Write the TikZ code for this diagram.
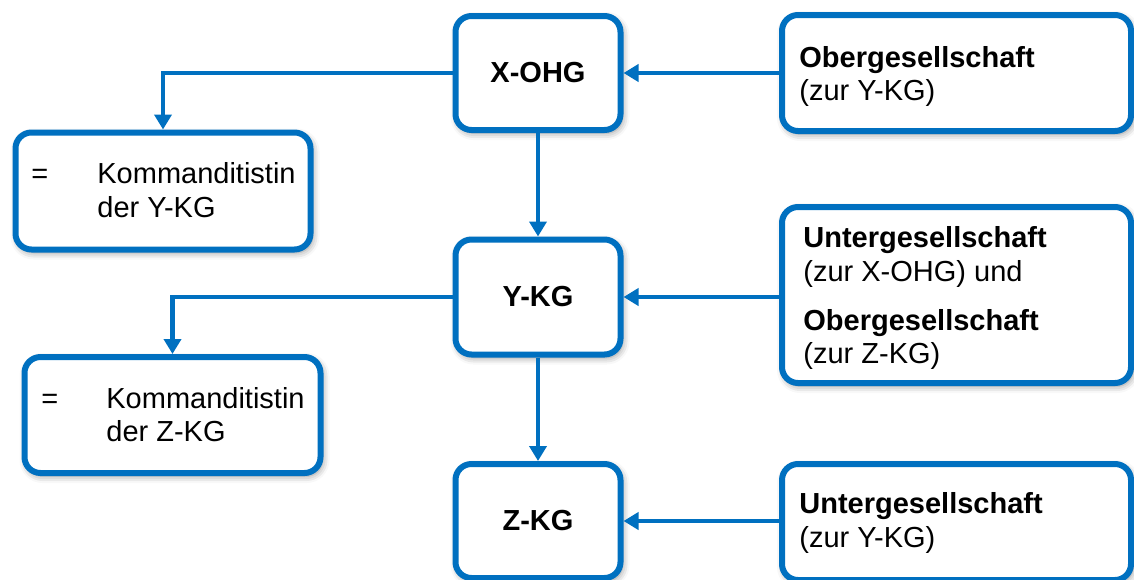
\documentclass[tikz,border=0pt]{standalone}
\usepackage{fontspec}
\setmainfont{Liberation Sans}
\usetikzlibrary{arrows.meta,shadows.blur}
\definecolor{linkblue}{RGB}{0,112,192}
\begin{document}
\begin{tikzpicture}[x=0.5pt,y=-0.5pt,
  box/.style={draw=linkblue, line width=3pt, rounded corners=8pt, fill=white,
    blur shadow={shadow xshift=1pt, shadow yshift=-1.5pt, shadow blur radius=3.5pt, shadow opacity=45},
    inner sep=0pt},
  conn/.style={draw=linkblue, line width=2.4pt, -{Triangle[length=7.5pt,width=8.5pt]}},
  txt/.style={inner sep=0pt, anchor=base west, font=\fontsize{14.5}{17}\selectfont},
  head/.style={font=\fontsize{14.5}{17}\selectfont\bfseries}]
\useasboundingbox (0,0) rectangle (1134,579);
\clip (0,0) rectangle (1134,579);

% central chain of companies
\node[box, head, minimum width=82.5pt, minimum height=57pt] (xohg) at (538,73) {X-OHG};
\node[box, head, minimum width=82.5pt, minimum height=57.5pt] (ykg) at (538,297) {Y-KG};
\node[box, head, minimum width=82.5pt, minimum height=57pt] (zkg) at (538,521) {Z-KG};

% role boxes on the right
\node[box, minimum width=174.5pt, minimum height=58pt] (rb1) at (956.5,73) {};
\node[box, minimum width=174.5pt, minimum height=88pt] (rb2) at (956.5,295) {};
\node[box, minimum width=174.5pt, minimum height=58pt] (rb3) at (956.5,522) {};

% partner boxes on the left
\node[box, minimum width=147.5pt, minimum height=58.5pt] (lb1) at (163,191) {};
\node[box, minimum width=148pt, minimum height=58pt] (lb2) at (172.5,415) {};

% texts of the right boxes
\node[txt] (rb1a) at (799,67) {\bfseries Obergesellschaft};
\node[txt] (rb1b) at (799,100) {(zur Y-KG)};
\node[txt] (rb2a) at (803,247) {\bfseries Untergesellschaft};
\node[txt] (rb2b) at (803,281) {(zur X-OHG) und};
\node[txt] (rb2c) at (803,330) {\bfseries Obergesellschaft};
\node[txt] (rb2d) at (803,363) {(zur Z-KG)};
\node[txt] (rb3a) at (799,513) {\bfseries Untergesellschaft};
\node[txt] (rb3b) at (799,547) {(zur Y-KG)};

% texts of the left boxes
\node[txt] (lb1e) at (31,183) {=};
\node[txt] (lb1a) at (97,183) {Kommanditistin};
\node[txt] (lb1b) at (97,217) {der Y-KG};
\node[txt] (lb2e) at (41,408) {=};
\node[txt] (lb2a) at (106,408) {Kommanditistin};
\node[txt] (lb2b) at (106,441) {der Z-KG};

% connectors
\draw[conn] (xohg.south) -- (ykg.north);
\draw[conn] (ykg.south) -- (zkg.north);
\draw[conn] (rb1.west) -- (xohg.east);
\draw[conn] (rb2.west |- ykg.east) -- (ykg.east);
\draw[conn] (rb3.west |- zkg.east) -- (zkg.east);
\draw[conn] (xohg.west) -| (lb1.north);
\draw[conn] (ykg.west) -| (lb2.north);
\end{tikzpicture}
\end{document}
